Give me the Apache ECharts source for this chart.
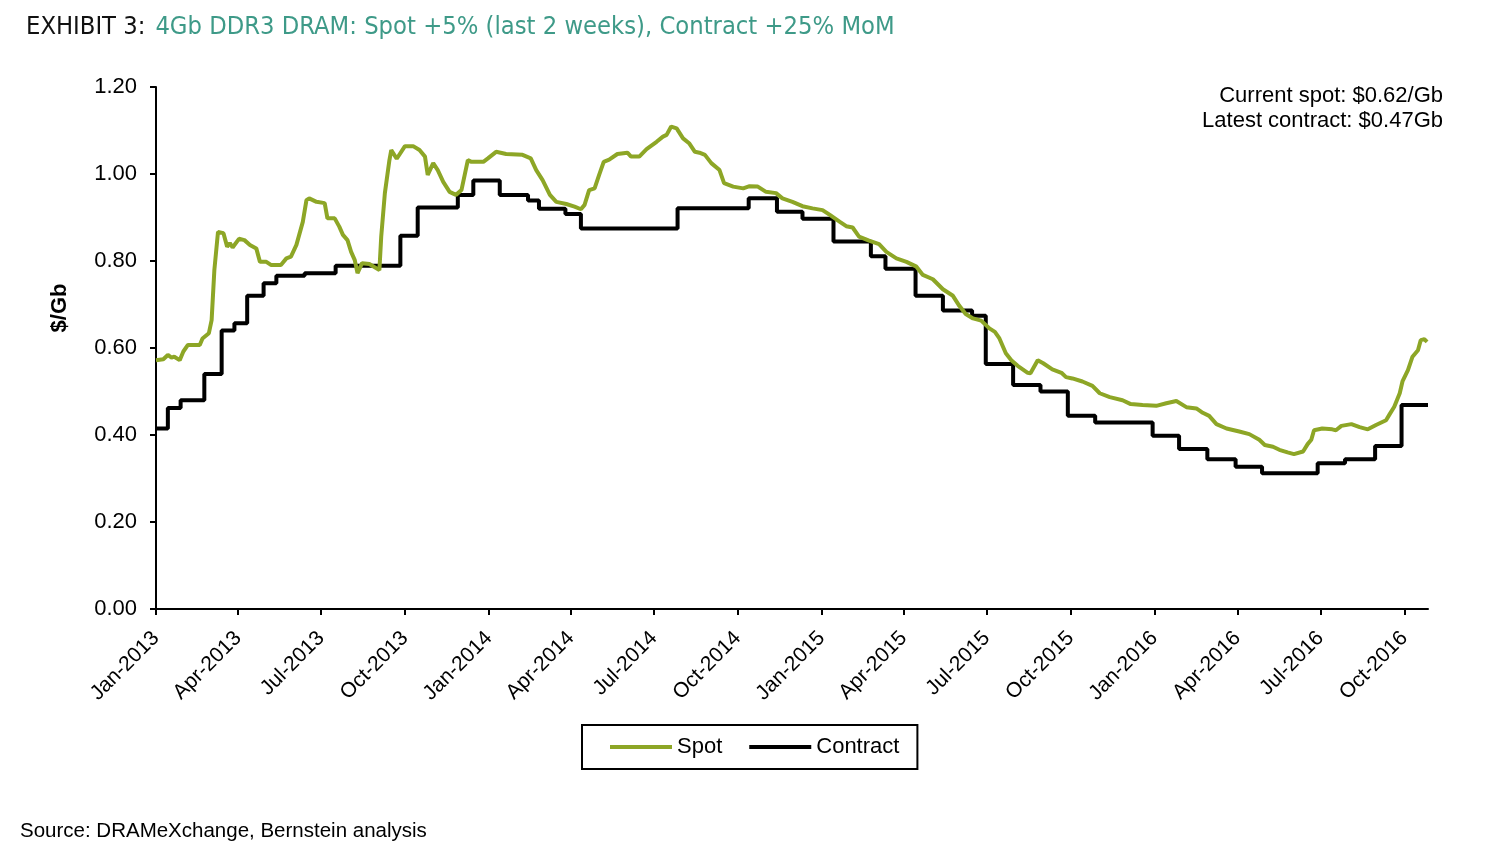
<!DOCTYPE html>
<html>
<head>
<meta charset="utf-8">
<title>4Gb DDR3 DRAM spot vs contract</title>
<script src="https://cdn.jsdelivr.net/npm/echarts@6.0.0/dist/echarts.min.js"></script>
<style>
  html, body { margin: 0; padding: 0; background: #fff; }
  #chart { width: 1500px; height: 856px; }
</style>
</head>
<body>
<div id="chart"></div>
<script>
// spot price, $/Gb
const spotDates = [
  '2013-01-01', '2013-01-09', '2013-01-14', '2013-01-18', '2013-01-21', '2013-01-27', '2013-01-31', '2013-02-05',
  '2013-02-18', '2013-02-21', '2013-02-28', '2013-03-03', '2013-03-06', '2013-03-10', '2013-03-16', '2013-03-20',
  '2013-03-23', '2013-03-26', '2013-04-02', '2013-04-08', '2013-04-14', '2013-04-21', '2013-04-25', '2013-05-02',
  '2013-05-07', '2013-05-18', '2013-05-24', '2013-05-29', '2013-06-04', '2013-06-11', '2013-06-15', '2013-06-18',
  '2013-06-26', '2013-07-05', '2013-07-08', '2013-07-16', '2013-07-21', '2013-07-25', '2013-07-30', '2013-08-03',
  '2013-08-07', '2013-08-10', '2013-08-15', '2013-08-23', '2013-09-03', '2013-09-05', '2013-09-09', '2013-09-14',
  '2013-09-16', '2013-09-22', '2013-10-01', '2013-10-10', '2013-10-17', '2013-10-23', '2013-10-26', '2013-11-01',
  '2013-11-06', '2013-11-12', '2013-11-19', '2013-11-26', '2013-12-02', '2013-12-09', '2013-12-13', '2013-12-26',
  '2013-12-31', '2014-01-09', '2014-01-20', '2014-02-07', '2014-02-16', '2014-02-22', '2014-03-01', '2014-03-09',
  '2014-03-16', '2014-03-27', '2014-04-05', '2014-04-12', '2014-04-16', '2014-04-21', '2014-04-27', '2014-05-02',
  '2014-05-07', '2014-05-13', '2014-05-22', '2014-06-02', '2014-06-06', '2014-06-15', '2014-06-23', '2014-07-04',
  '2014-07-11', '2014-07-15', '2014-07-20', '2014-07-26', '2014-08-02', '2014-08-09', '2014-08-15', '2014-08-20',
  '2014-08-26', '2014-09-02', '2014-09-11', '2014-09-16', '2014-09-26', '2014-10-07', '2014-10-14', '2014-10-23',
  '2014-11-01', '2014-11-12', '2014-11-19', '2014-11-30', '2014-12-11', '2014-12-22', '2015-01-02', '2015-01-10',
  '2015-01-21', '2015-01-28', '2015-02-04', '2015-02-11', '2015-02-22', '2015-03-05', '2015-03-13', '2015-03-24',
  '2015-04-04', '2015-04-15', '2015-04-22', '2015-05-03', '2015-05-14', '2015-05-25', '2015-06-01', '2015-06-08',
  '2015-06-16', '2015-06-25', '2015-07-04', '2015-07-10', '2015-07-15', '2015-07-22', '2015-07-28', '2015-08-04',
  '2015-08-15', '2015-08-18', '2015-08-26', '2015-09-01', '2015-09-11', '2015-09-21', '2015-09-26', '2015-10-03',
  '2015-10-14', '2015-10-25', '2015-11-02', '2015-11-13', '2015-11-27', '2015-12-06', '2015-12-19', '2016-01-03',
  '2016-01-14', '2016-01-25', '2016-02-05', '2016-02-16', '2016-02-23', '2016-03-01', '2016-03-09', '2016-03-20',
  '2016-04-03', '2016-04-14', '2016-04-25', '2016-05-01', '2016-05-10', '2016-05-17', '2016-05-26', '2016-06-02',
  '2016-06-12', '2016-06-17', '2016-06-21', '2016-06-24', '2016-07-03', '2016-07-14', '2016-07-18', '2016-07-24',
  '2016-08-04', '2016-08-13', '2016-08-22', '2016-08-31', '2016-09-11', '2016-09-15', '2016-09-20', '2016-09-26',
  '2016-09-29', '2016-10-05', '2016-10-10', '2016-10-16', '2016-10-19', '2016-10-23', '2016-10-26'
]
const spotValues = [
  0.572, 0.574, 0.584, 0.578, 0.580, 0.572, 0.592, 0.607,
  0.607, 0.622, 0.634, 0.664, 0.779, 0.867, 0.864, 0.833,
  0.841, 0.831, 0.851, 0.848, 0.837, 0.829, 0.798, 0.798,
  0.791, 0.791, 0.806, 0.810, 0.837, 0.890, 0.940, 0.944,
  0.936, 0.933, 0.898, 0.898, 0.879, 0.860, 0.848, 0.821,
  0.802, 0.772, 0.795, 0.793, 0.779, 0.856, 0.956, 1.032,
  1.055, 1.035, 1.064, 1.064, 1.055, 1.040, 0.998, 1.025,
  1.009, 0.982, 0.959, 0.952, 0.963, 1.032, 1.028, 1.028,
  1.036, 1.051, 1.046, 1.044, 1.036, 1.009, 0.986, 0.952,
  0.936, 0.931, 0.925, 0.919, 0.929, 0.963, 0.967, 0.998,
  1.028, 1.033, 1.046, 1.049, 1.040, 1.040, 1.057, 1.074,
  1.086, 1.090, 1.109, 1.105, 1.082, 1.070, 1.051, 1.049,
  1.044, 1.025, 1.009, 0.979, 0.971, 0.967, 0.972, 0.971,
  0.959, 0.956, 0.944, 0.936, 0.926, 0.921, 0.917, 0.906,
  0.890, 0.880, 0.877, 0.856, 0.847, 0.839, 0.821, 0.806,
  0.798, 0.787, 0.768, 0.758, 0.735, 0.720, 0.697, 0.678,
  0.668, 0.663, 0.645, 0.637, 0.622, 0.588, 0.572, 0.559,
  0.543, 0.542, 0.572, 0.565, 0.551, 0.543, 0.533, 0.530,
  0.523, 0.513, 0.496, 0.487, 0.480, 0.471, 0.469, 0.467,
  0.473, 0.478, 0.464, 0.461, 0.451, 0.444, 0.425, 0.415,
  0.408, 0.402, 0.389, 0.377, 0.373, 0.366, 0.360, 0.356,
  0.362, 0.379, 0.389, 0.411, 0.415, 0.413, 0.411, 0.421,
  0.425, 0.418, 0.413, 0.423, 0.434, 0.448, 0.465, 0.496,
  0.523, 0.549, 0.580, 0.595, 0.618, 0.620, 0.614
]

// contract price, $/Gb: date each new level starts
const contractDates = [
  '2013-01-01', '2013-01-14', '2013-01-28', '2013-02-23', '2013-03-14', '2013-03-28', '2013-04-11', '2013-04-29',
  '2013-05-13', '2013-06-13', '2013-07-17', '2013-09-26', '2013-10-15', '2013-11-28', '2013-12-15', '2014-01-13',
  '2014-02-13', '2014-02-25', '2014-03-26', '2014-04-12', '2014-07-27', '2014-10-13', '2014-11-13', '2014-12-11',
  '2015-01-14', '2015-02-24', '2015-03-12', '2015-04-14', '2015-05-14', '2015-06-15', '2015-06-30', '2015-07-30',
  '2015-08-29', '2015-09-28', '2015-10-28', '2015-12-30', '2016-01-28', '2016-02-28', '2016-03-30', '2016-04-28',
  '2016-06-28', '2016-07-28', '2016-08-30', '2016-09-28', '2016-10-27'
]
const contractValues = [
  0.415, 0.462, 0.480, 0.540, 0.640, 0.657, 0.720, 0.749,
  0.766, 0.772, 0.789, 0.858, 0.923, 0.952, 0.985, 0.952,
  0.939, 0.920, 0.908, 0.875, 0.921, 0.944, 0.913, 0.897,
  0.845, 0.811, 0.782, 0.720, 0.686, 0.674, 0.563, 0.515,
  0.500, 0.444, 0.429, 0.398, 0.368, 0.344, 0.327, 0.312,
  0.335, 0.344, 0.375, 0.469, 0.469
]

// quarterly tick positions on the date axis
const tickDates = [
  '2013-01-01', '2013-04-01', '2013-07-01', '2013-10-01',
  '2014-01-01', '2014-04-01', '2014-07-01', '2014-10-01',
  '2015-01-01', '2015-04-01', '2015-07-01', '2015-10-01',
  '2016-01-01', '2016-04-01', '2016-07-01', '2016-10-01'
]
const monthNames = ['Jan', 'Feb', 'Mar', 'Apr', 'May', 'Jun', 'Jul', 'Aug', 'Sep', 'Oct', 'Nov', 'Dec']

const FONT = "'Liberation Sans', Arial, sans-serif"
const TITLE_FONT = "'DejaVu Sans Condensed', 'Liberation Sans Narrow', sans-serif"
const SPOT_COLOR = '#8da626'

// dates -> ms timestamps, plotted on a linear value axis
function toTime(s) {
  const p = s.split('-').map(Number)
  return Date.UTC(p[0], p[1] - 1, p[2])
}

const tickValues = tickDates.map(toTime)
const spotData = spotDates.map((d, i) => [toTime(d), spotValues[i]])
const contractData = contractDates.map((d, i) => [toTime(d), contractValues[i]])

const chart = echarts.init(document.getElementById('chart'))

const option = {
  animation: false,
  backgroundColor: '#fff',
  title: {
    left: 21,
    top: 10,
    text: '{a|EXHIBIT 3:}  {b|4Gb DDR3 DRAM: Spot +5% (last 2 weeks), Contract +25% MoM}',
    textStyle: {
      fontWeight: 'normal',
      rich: {
        a: { fontSize: 25.3, fontWeight: 'normal', color: '#111', fontFamily: TITLE_FONT },
        b: { fontSize: 25.3, fontWeight: 'normal', color: '#3e9a88', fontFamily: TITLE_FONT }
      }
    }
  },
  grid: { left: 156, right: 72, top: 87, bottom: 247, containLabel: false },
  legend: {
    left: 582,
    top: 725,
    orient: 'horizontal',
    icon: 'rect',
    padding: [11, 18, 11, 28],
    itemGap: 27,
    itemWidth: 62,
    itemHeight: 4,
    borderColor: '#000',
    borderWidth: 2,
    textStyle: { fontSize: 22, color: '#000', fontFamily: FONT },
    data: ['Spot', 'Contract']
  },
  xAxis: {
    type: 'value',
    min: toTime('2013-01-01'),
    max: toTime('2016-10-27'),
    axisLine: { show: true, onZero: false, lineStyle: { color: '#000', width: 2 } },
    axisTick: { show: true, length: 6, lineStyle: { color: '#000', width: 2 }, customValues: tickValues },
    axisLabel: {
      customValues: tickValues,
      rotate: 45,
      margin: 26,
      fontSize: 21,
      color: '#000',
      fontFamily: FONT,
      formatter: v => {
        const d = new Date(v)
        return monthNames[d.getUTCMonth()] + '-' + d.getUTCFullYear()
      }
    },
    splitLine: { show: false }
  },
  yAxis: {
    type: 'value',
    min: 0,
    max: 1.2,
    interval: 0.2,
    axisLine: { show: true, lineStyle: { color: '#000', width: 2 } },
    axisTick: { show: true, inside: false, length: 6, lineStyle: { color: '#000', width: 2 } },
    axisLabel: {
      margin: 19,
      fontSize: 22,
      color: '#000',
      fontFamily: FONT,
      formatter: v => v.toFixed(2)
    },
    splitLine: { show: false }
  },
  series: [
    {
      name: 'Spot',
      type: 'line',
      data: spotData,
      symbol: 'none',
      color: SPOT_COLOR,
      lineStyle: { color: SPOT_COLOR, width: 4 },
      z: 3
    },
    {
      name: 'Contract',
      type: 'line',
      data: contractData,
      step: 'end',
      symbol: 'none',
      color: '#000',
      lineStyle: { color: '#000', width: 4 },
      z: 2
    }
  ],
  graphic: [
    {
      type: 'text',
      x: 60,
      y: 308,
      rotation: Math.PI / 2,
      style: {
        text: '$/Gb',
        align: 'center', verticalAlign: 'middle',
        font: 'bold 22px ' + FONT, fill: '#000'
      }
    },
    {
      type: 'text',
      style: {
        text: 'Current spot: $0.62/Gb',
        x: 1443, y: 96,
        align: 'right', verticalAlign: 'middle',
        font: '22px ' + FONT, fill: '#000'
      }
    },
    {
      type: 'text',
      style: {
        text: 'Latest contract: $0.47Gb',
        x: 1443, y: 121,
        align: 'right', verticalAlign: 'middle',
        font: '22px ' + FONT, fill: '#000'
      }
    },
    {
      type: 'text',
      style: {
        text: 'Source: DRAMeXchange, Bernstein analysis',
        x: 20, y: 831,
        align: 'left', verticalAlign: 'middle',
        font: '20.5px ' + FONT, fill: '#000'
      }
    }
  ]
}

chart.setOption(option)
</script>
</body>
</html>
